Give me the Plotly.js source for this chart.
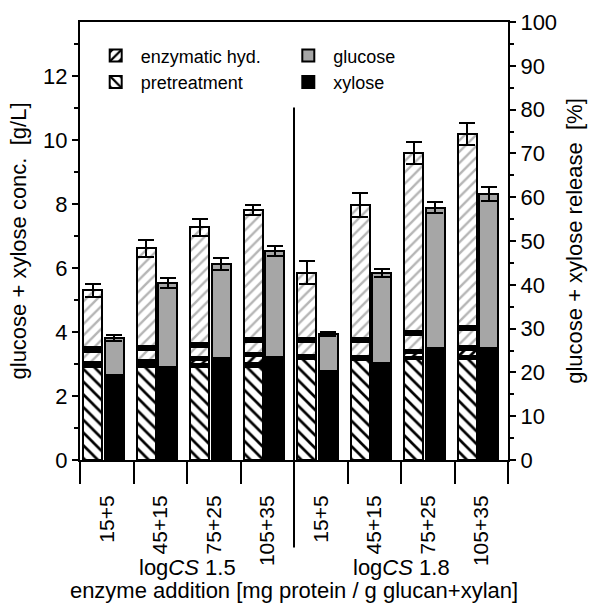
<!DOCTYPE html>
<html><head><meta charset="utf-8">
<script src="https://cdn.plot.ly/plotly-3.0.1.min.js"></script>
<style>html,body{margin:0;padding:0;background:#fff}#chart{width:600px;height:603px}</style>
</head><body><div id="chart"></div>
<script>
// ---- data (g/L) ----
const categories = ['15+5','45+15','75+25','105+35','15+5','45+15','75+25','105+35'];
const severityLabels = ['log<i>CS</i> 1.5','log<i>CS</i> 1.8'];
// left bar: origin of the sugars, stacked from bottom
const pretreatment = [2.90,2.92,2.90,2.92,3.15,3.12,3.15,3.15];
const band1        = [0.10,0.10,0.10,0.10,0.07,0.07,0.08,0.10];
const enzHydDark   = [0.00,0.00,0.13,0.24,0.00,0.00,0.12,0.20];
const band2        = [0.07,0.10,0.10,0.10,0.06,0.06,0.08,0.10];
const enzHydLow    = [0.32,0.32,0.29,0.34,0.40,0.45,0.47,0.51];
const band3        = [0.14,0.12,0.13,0.12,0.12,0.12,0.12,0.13];
const enzHydMain   = [1.77,3.06,3.62,3.99,2.06,4.15,5.57,6.00];
const enzHydErr    = [0.20,0.27,0.27,0.16,0.36,0.37,0.34,0.35];
// right bar: sugar type
const xylose   = [2.66,2.92,3.18,3.21,2.78,3.04,3.49,3.49];
const glucose  = [1.15,2.61,2.94,3.33,1.16,2.80,4.39,4.81];
const sugarErr = [0.09,0.15,0.18,0.16,0.05,0.13,0.17,0.22];
const yLeftMax = 13.69;   // g/L at top of frame
const yRightMax = 100;    // % at top of frame

const FONT = 'Liberation Sans, Arial, sans-serif';
const idx = categories.map((_, i) => i);
const xLeft = idx.map(i => i + 0.24);
const xRight = idx.map(i => i + 0.64);
const W = 0.36;
const outline = {color:'black', width:2};

function seg(y, name, marker, extra) {
  return Object.assign({type:'bar', x:xLeft, y:y, width:W, name:name, showlegend:false,
    marker:Object.assign({line:outline}, marker), hoverinfo:'skip'}, extra || {});
}
const blackFill = {color:'black'};
const lightHatch = {color:'white', pattern:{shape:'/', fgcolor:'#b5b5b5', bgcolor:'white', size:8, solidity:0.3}};

const traces = [
  seg(pretreatment, 'pretreatment', {color:'white', pattern:{shape:'\\', fgcolor:'black', bgcolor:'white', size:9, solidity:0.3}}, {showlegend:true, legend:'legend'}),
  seg(band1, 'b1', blackFill),
  seg(enzHydDark, 'enzymatic hyd.', {color:'white', pattern:{shape:'/', fgcolor:'black', bgcolor:'white', size:8, solidity:0.35}}, {showlegend:true, legend:'legend'}),
  seg(band2, 'b2', blackFill),
  seg(enzHydLow, 'e1', lightHatch),
  seg(band3, 'b3', blackFill),
  seg(enzHydMain, 'e2', lightHatch, {error_y:{type:'data', array:enzHydErr, symmetric:true, color:'black', thickness:2, width:8}}),
  {type:'bar', x:xRight, y:xylose, width:W, name:'xylose', legend:'legend2', showlegend:true,
   marker:{color:'black', line:outline}, hoverinfo:'skip'},
  {type:'bar', x:xRight, y:glucose, width:W, name:'glucose', legend:'legend2', showlegend:true,
   marker:{color:'#a6a6a6', line:outline}, hoverinfo:'skip',
   error_y:{type:'data', array:sugarErr, symmetric:true, color:'black', thickness:2, width:8}},
  {type:'scatter', x:[], y:[], yaxis:'y2', showlegend:false, hoverinfo:'skip'}
];

const layout = {
  width:600, height:603,
  margin:{l:80, r:92, t:22, b:143},
  paper_bgcolor:'white', plot_bgcolor:'white',
  font:{family:FONT, color:'black', size:22},
  barmode:'stack',
  showlegend:true,
  xaxis:{
    range:[0, categories.length], showgrid:false, zeroline:false,
    showline:true, linewidth:2, linecolor:'black', mirror:true,
    tickmode:'array', tickvals:idx.map(i => i + 0.5), ticktext:categories,
    ticks:'outside', ticklen:25, tickcolor:'rgba(0,0,0,0)', tickangle:-90,
    tickfont:{size:21},
    minor:{tickmode:'array', tickvals:idx.concat([categories.length]), ticks:'outside', ticklen:22, tickwidth:2, tickcolor:'black'},
    title:{text:'enzyme addition [mg protein / g glucan+xylan]', font:{size:22}, standoff:27}
  },
  yaxis:{
    range:[0, yLeftMax], showgrid:false, zeroline:false,
    showline:true, linewidth:2, linecolor:'black',
    dtick:2, ticks:'outside', ticklen:6, tickwidth:2, tickcolor:'black',
    minor:{dtick:1, ticks:'outside', ticklen:4, tickwidth:2, tickcolor:'black'},
    tickfont:{size:22},
    title:{text:'glucose + xylose conc.  [g/L]', font:{size:22}, standoff:10}
  },
  yaxis2:{
    overlaying:'y', side:'right', range:[0, yRightMax], showgrid:false, zeroline:false,
    showline:true, linewidth:2, linecolor:'black',
    dtick:10, ticks:'outside', ticklen:6, tickwidth:2, tickcolor:'black',
    minor:{dtick:5, ticks:'outside', ticklen:4, tickwidth:2, tickcolor:'black'},
    tickfont:{size:22},
    title:{text:'glucose + xylose release  [%]', font:{size:22}, standoff:10}
  },
  legend:{x:0.025, y:0.965, xanchor:'left', yanchor:'top', bgcolor:'rgba(0,0,0,0)',
    font:{size:18}, traceorder:'reversed', tracegroupgap:0, itemwidth:40},
  legend2:{x:0.475, y:0.965, xanchor:'left', yanchor:'top', bgcolor:'rgba(0,0,0,0)',
    font:{size:18}, traceorder:'reversed', tracegroupgap:0, itemwidth:40},
  shapes:[
    {type:'line', xref:'x', yref:'paper', x0:categories.length/2, x1:categories.length/2, y0:-0.2, y1:0.805,
     line:{color:'black', width:2}}
  ],
  annotations:severityLabels.map((t, k) => ({
    text:t, xref:'x', yref:'paper', x:categories.length/4 * (2*k + 1), y:-0.245,
    xanchor:'center', yanchor:'middle', showarrow:false, font:{size:22}
  }))
};

Plotly.newPlot('chart', traces, layout, {staticPlot:true, displayModeBar:false});
</script>
</body></html>
